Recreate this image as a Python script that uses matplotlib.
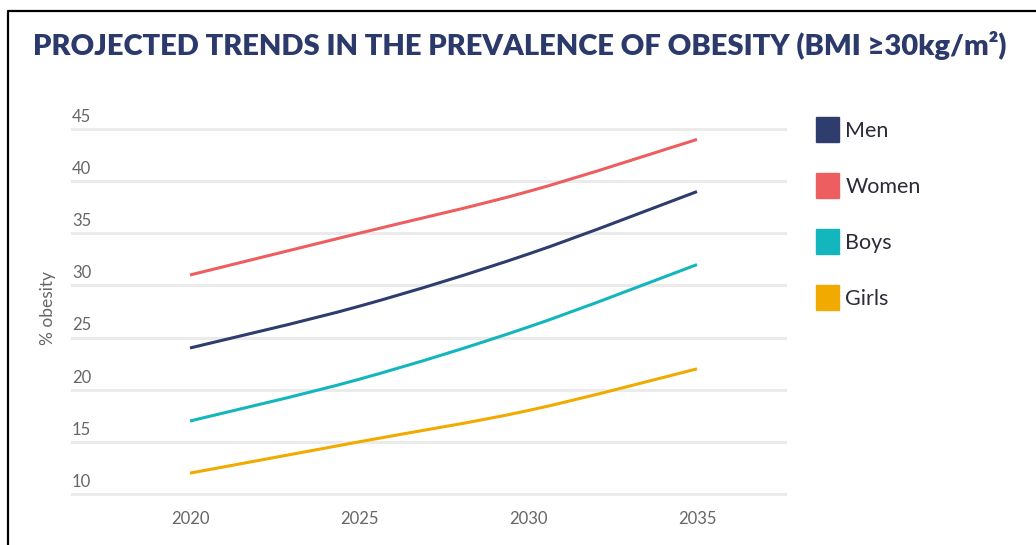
import numpy as np
import matplotlib
matplotlib.use("Agg")
import matplotlib.pyplot as plt
from matplotlib.path import Path
from matplotlib.patches import PathPatch, Patch
from matplotlib.lines import Line2D

# Data
years = [2020, 2025, 2030, 2035]
men = [24, 28, 33, 39]
women = [31, 35, 39, 44]
boys = [17, 21, 26, 32]
girls = [12, 15, 18, 22]

series_names = ["Men", "Women", "Boys", "Girls"]
series_colors = ["#2e3d6e", "#ec5e5f", "#14b6bd", "#f0aa00"]
y_ticks = [10, 15, 20, 25, 30, 35, 40, 45]

plt.rcParams['font.family'] = ['Lato', 'DejaVu Sans']


# Smooth curve through the points (Catmull-Rom as cubic Bezier path)
def smooth_path(xs, ys):
    xs = np.asarray(xs, float)
    ys = np.asarray(ys, float)
    pts = np.column_stack([xs, ys])
    verts = [pts[0]]
    codes = [Path.MOVETO]
    n = len(pts)
    for i in range(n - 1):
        p0 = pts[i - 1] if i > 0 else pts[i]
        p1 = pts[i]
        p2 = pts[i + 1]
        p3 = pts[i + 2] if i + 2 < n else pts[i + 1]
        c1 = p1 + (p2 - p0) / 6.0
        c2 = p2 - (p3 - p1) / 6.0
        verts += [c1, c2, p2]
        codes += [Path.CURVE4] * 3
    return Path(verts, codes)


fig = plt.figure(figsize=(10.36, 5.45), dpi=100)
ax = fig.add_axes([72 / 1036, 1 - 494 / 545, (785 - 72) / 1036, (494 - 129) / 545])

ax.set_xlim(2020 - 118 / 33.8, 2035 + 88 / 33.8)
ax.set_ylim(10, 45)

# grid lines and tick labels
for t in y_ticks:
    ax.axhline(t, color="#ebebeb", lw=2.2, zorder=0, clip_on=False)
    ax.annotate(str(t), xy=(0, t), xycoords=ax.get_yaxis_transform(),
                xytext=(0, 3), textcoords="offset points",
                ha="left", va="bottom", fontsize=12, color="#666666")

for vals, name, col in zip([men, women, boys, girls], series_names, series_colors):
    ax.add_patch(PathPatch(smooth_path(years, vals), facecolor="none",
                           edgecolor=col, lw=2.2, capstyle="butt", zorder=3))

for s in ax.spines.values():
    s.set_visible(False)
ax.set_yticks([])
ax.set_xticks(years)
ax.set_xticklabels([str(y) for y in years])
ax.tick_params(axis="x", length=0, pad=12, labelsize=12, labelcolor="#666666")

fig.text(48 / 1036, 1 - 308 / 545, "% obesity", rotation=90, ha="center", va="center",
         fontsize=12.5, color="#666666")

# legend
handles = [Patch(facecolor=c, edgecolor=c, label=n) for n, c in zip(series_names, series_colors)]
fig.legend(handles=handles, loc="upper left", bbox_to_anchor=(816 / 1036, 1 - 117 / 545),
           frameon=False, fontsize=15.5, handlelength=1.07, handleheight=1.4,
           handletextpad=0.3, labelspacing=1.45, borderpad=0, borderaxespad=0,
           labelcolor="#2b2b3a")

# title
fig.text(33 / 1036, 1 - 46 / 545, "PROJECTED TRENDS IN THE PREVALENCE OF OBESITY (BMI \u226530kg/m\u00b2)",
         ha="left", va="center", fontsize=21, fontweight="heavy", color="#2b3a6b")

# frame border (top and left edge)
fig.add_artist(Line2D([8 / 1036, 8 / 1036, 1], [0, 1 - 11 / 545, 1 - 11 / 545],
                      transform=fig.transFigure, color="black", lw=1.6))

fig.savefig("out.png", dpi=100)
